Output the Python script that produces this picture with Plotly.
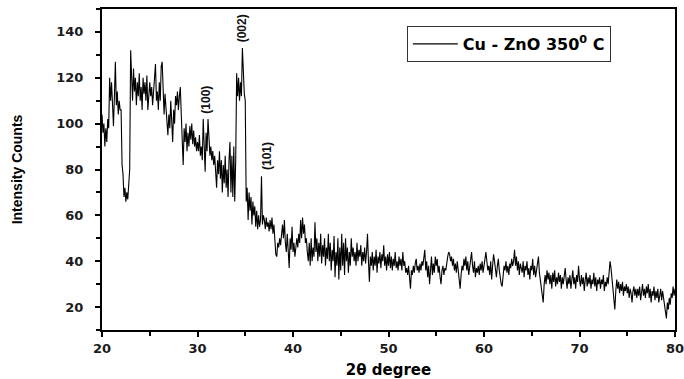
import numpy as np
import plotly.graph_objects as go

# 2-theta from 20 to 80 degrees, step 0.1
two_theta_start = 20.0
two_theta_step = 0.1

# Intensity counts, one row per degree (20.x ... 79.x), last value is 80.0
intensity_20s = [
    104, 96, 100, 90, 98, 92, 102, 98, 120, 110,      # 20
    118, 106, 99, 112, 127, 108, 114, 104, 110, 106,  # 21
    106, 82, 78, 68, 72, 66, 70, 67, 74, 80,          # 22
    132, 118, 110, 124, 114, 120, 108, 118, 112, 122, # 23
    110, 116, 106, 120, 113, 118, 110, 121, 106, 112, # 24
    118, 112, 116, 108, 114, 120, 126, 110, 114, 106, # 25
    118, 110, 125, 127, 112, 104, 113, 108, 100, 95,  # 26
    104, 98, 110, 102, 92, 106, 100, 112, 108, 114,   # 27
    106, 112, 116, 104, 95, 82, 98, 92, 100, 88,      # 28
    96, 90, 99, 93, 100, 91, 97, 90, 94, 88,          # 29
]
intensity_30s = [
    92, 88, 95, 86, 90, 84, 102, 85, 79, 96,          # 30
    88, 102, 95, 86, 90, 84, 88, 82, 86, 78,          # 31
    72, 84, 78, 88, 76, 84, 70, 82, 74, 86,           # 32
    72, 80, 68, 84, 92, 70, 86, 68, 90, 66,           # 33
    84, 122, 112, 120, 110, 118, 112, 133, 120, 113,  # 34
    110, 66, 72, 58, 70, 62, 68, 56, 66, 60,          # 35
    64, 55, 62, 54, 60, 55, 58, 77, 56, 60,           # 36
    58, 54, 59, 55, 57, 53, 58, 54, 59, 52,           # 37
    56, 50, 43, 42, 48, 46, 50, 47, 52, 56,           # 38
    50, 58, 48, 44, 52, 42, 37, 50, 45, 55,           # 39
]
intensity_40s = [
    44, 48, 42, 46, 50, 46, 52, 48, 58, 50,           # 40
    59, 52, 56, 48, 50, 44, 40, 48, 38, 50,           # 41
    40, 46, 42, 57, 44, 50, 40, 48, 42, 52,           # 42
    39, 47, 42, 50, 38, 46, 41, 52, 40, 48,           # 43
    36, 45, 40, 51, 33, 44, 38, 50, 32, 46,           # 44
    36, 52, 38, 48, 34, 50, 40, 46, 35, 44,           # 45
    38, 50, 42, 46, 40, 44, 38, 48, 40, 45,           # 46
    42, 47, 38, 44, 40, 46, 39, 44, 52, 40,           # 47
    31, 42, 38, 44, 36, 42, 38, 45, 35, 42,           # 48
    39, 44, 37, 43, 40, 47, 38, 42, 36, 43,           # 49
]
intensity_50s = [
    38, 44, 37, 42, 36, 41, 38, 44, 37, 40,           # 50
    36, 42, 38, 41, 36, 44, 38, 40, 35, 37,           # 51
    34, 38, 30, 28, 36, 34, 38, 35, 39, 41,           # 52
    36, 38, 35, 39, 36, 40, 38, 41, 45, 36,           # 53
    40, 33, 38, 30, 36, 42, 34, 39, 35, 42,           # 54
    38, 41, 35, 38, 33, 30, 36, 38, 34, 37,           # 55
    36, 40, 42, 44, 43, 40, 42, 38, 41, 36,           # 56
    39, 35, 40, 36, 30, 28, 34, 38, 36, 41,           # 57
    38, 42, 36, 40, 34, 38, 42, 44, 38, 35,           # 58
    40, 33, 37, 35, 38, 34, 39, 36, 40, 35,           # 59
]
intensity_60s = [
    38, 42, 44, 40, 36, 38, 34, 40, 32, 38,           # 60
    43, 40, 36, 33, 38, 41, 36, 32, 30, 29,           # 61
    34, 38, 36, 40, 35, 38, 34, 39, 37, 41,           # 62
    38, 40, 45, 38, 42, 36, 40, 34, 39, 37,           # 63
    35, 40, 33, 38, 36, 40, 34, 37, 32, 38,           # 64
    36, 41, 34, 38, 33, 36, 40, 42, 35, 31,           # 65
    28, 24, 22, 30, 34, 30, 36, 32, 35, 30,           # 66
    34, 28, 35, 31, 36, 29, 33, 30, 35, 31,           # 67
    34, 28, 33, 30, 35, 37, 32, 28, 33, 30,           # 68
    34, 28, 32, 36, 30, 33, 28, 34, 31, 38,           # 69
]
intensity_70s = [
    32, 29, 34, 30, 33, 27, 32, 35, 29, 33,           # 70
    30, 34, 28, 32, 30, 35, 29, 33, 27, 32,           # 71
    30, 33, 28, 32, 30, 34, 27, 31, 29, 33,           # 72
    30, 34, 40, 37, 32, 28, 24, 19, 27, 32,           # 73
    28, 31, 26, 30, 27, 31, 25, 29, 27, 30,           # 74
    26, 29, 24, 28, 26, 22, 27, 29, 25, 28,           # 75
    24, 28, 25, 29, 23, 27, 30, 25, 28, 24,           # 76
    29, 26, 30, 24, 28, 22, 27, 25, 29, 23,           # 77
    27, 24, 28, 22, 26, 28, 23, 27, 24, 20,           # 78
    18, 15, 22, 19, 24, 21, 26, 24, 29, 25,           # 79
    28,                                               # 80
]

intensity = (intensity_20s + intensity_30s + intensity_40s + intensity_50s
             + intensity_60s + intensity_70s)
two_theta = [round(two_theta_start + i * two_theta_step, 1) for i in range(len(intensity))]

series_name = "Cu - ZnO 350<sup>0</sup> C"

peak_labels = ["(100)", "(002)", "(101)"]
peak_x = [30.8, 34.75, 37.2]
peak_y = [110.5, 141.5, 86.0]

x_ticks = [20, 30, 40, 50, 60, 70, 80]
y_ticks = [20, 40, 60, 80, 100, 120, 140]

fig = go.Figure()
fig.add_trace(go.Scatter(
    x=two_theta, y=intensity, mode="lines", name=series_name,
    line=dict(color="black", width=1.1), showlegend=True,
))

for lab, px, py in zip(peak_labels, peak_x, peak_y):
    fig.add_annotation(x=px, y=py, text=lab, showarrow=False, textangle=-90,
                       font=dict(family="Liberation Sans, Arial", size=12, color="#111", weight="bold"),
                       xref="x", yref="y")

axis_common = dict(
    showline=True, linecolor="black", linewidth=2, mirror=True,
    ticks="outside", ticklen=5, tickwidth=1.5, tickcolor="black",
    showgrid=False, zeroline=False, ticklabeloverflow="allow",
    tickfont=dict(family="DejaVu Sans", size=13, color="#1a1a1a", weight="bold"),
)

fig.update_layout(
    width=684, height=379,
    margin=dict(l=102, r=9, t=9, b=49, autoexpand=False),
    paper_bgcolor="white", plot_bgcolor="white",
    font=dict(family="Liberation Sans, Arial", color="black"),
    xaxis=dict(range=[20, 80], tickvals=x_ticks,
               minor=dict(dtick=5, tick0=20, ticks="outside", ticklen=4, tickcolor="black", tickwidth=1.5),
               title=dict(text="2θ degree", font=dict(family="DejaVu Sans", size=15, weight="bold"), standoff=10),
               **axis_common),
    yaxis=dict(range=[10, 150], tickvals=y_ticks, ticklabelstandoff=9,
               minor=dict(dtick=10, tick0=10, ticks="outside", ticklen=4, tickcolor="black", tickwidth=1.5),
               title=dict(text="Intensity Counts", font=dict(family="Liberation Sans, Arial", size=14, weight="bold"), standoff=30),
               **axis_common),
    legend=dict(x=0.532, y=0.947, xanchor="left", yanchor="top",
                bgcolor="white", bordercolor="#333", borderwidth=1,
                font=dict(family="DejaVu Sans", size=16, color="black", weight="bold"),
                itemwidth=45, tracegroupgap=0),
)

fig.write_html("out.html", config={"displayModeBar": False},
               post_script="document.body.style.margin='0';")
